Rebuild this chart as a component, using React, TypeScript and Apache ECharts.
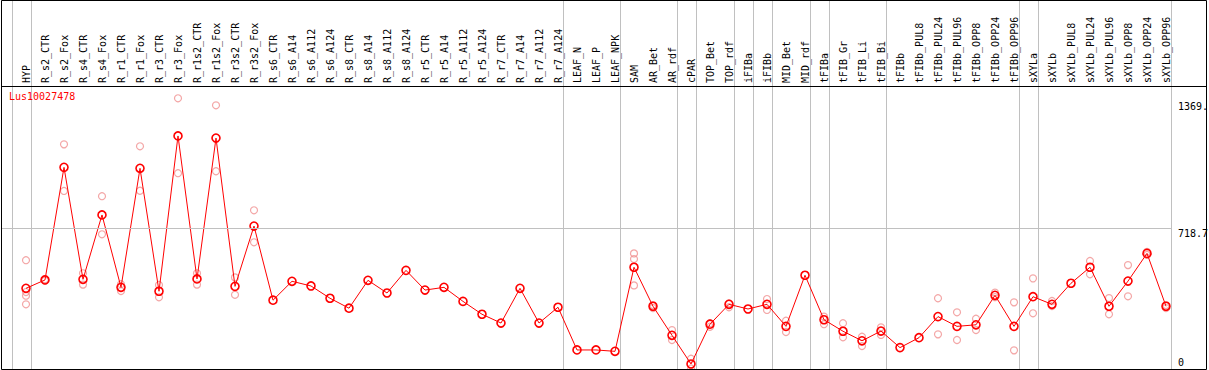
import React, { useEffect, useRef } from "react";
import * as echarts from "echarts";

const categories = [
  "HYP", "R_s2_CTR", "R_s2_Fox", "R_s4_CTR", "R_s4_Fox", "R_r1_CTR", "R_r1_Fox", "R_r3_CTR", "R_r3_Fox",
  "R_r1s2_CTR", "R_r1s2_Fox", "R_r3s2_CTR", "R_r3s2_Fox", "R_s6_CTR", "R_s6_A14", "R_s6_A112", "R_s6_A124",
  "R_s8_CTR", "R_s8_A14", "R_s8_A112", "R_s8_A124", "R_r5_CTR", "R_r5_A14", "R_r5_A112", "R_r5_A124",
  "R_r7_CTR", "R_r7_A14", "R_r7_A112", "R_r7_A124", "LEAF_N", "LEAF_P", "LEAF_NPK", "SAM", "AR_Bet", "AR_rdf",
  "cPAR", "TOP_Bet", "TOP_rdf", "iFIBa", "iFIBb", "MID_Bet", "MID_rdf", "tFIBa", "tFIB_Gr", "tFIB_Li", "tFIB_Bi",
  "tFIBb", "tFIBb_PUL8", "tFIBb_PUL24", "tFIBb_PUL96", "tFIBb_OPP8", "tFIBb_OPP24", "tFIBb_OPP96",
  "sXYLa", "sXYLb", "sXYLb_PUL8", "sXYLb_PUL24", "sXYLb_PUL96", "sXYLb_OPP8", "sXYLb_OPP24", "sXYLb_OPP96",
];

const meanValues = [
  411, 454, 1031, 457, 787, 416, 1026, 396, 1192,
  459, 1181, 421, 730, 350, 447, 423, 360,
  309, 452, 387, 503, 402, 416, 344, 278,
  233, 411, 233, 314, 95, 95, 88, 519, 319, 170,
  23, 227, 329, 305, 329, 216, 478, 250, 191, 142, 192,
  107, 158, 266, 216, 224, 375, 216,
  368, 329, 437, 519, 319, 448, 590, 319,
];

const replicateValues: number[][] = [
  [555, 392, 373, 329], [450, 458], [1149, 910], [488, 430], [883, 688], [432, 397], [1139, 911], [428, 365], [1385, 1001],
  [488, 430], [1349, 1011], [467, 378], [811, 647], [], [], [], [],
  [], [], [], [], [], [], [], [],
  [], [], [], [], [], [], [], [590, 561, 426], [325, 310], [197, 146],
  [50, 0], [232, 214], [334, 314], [], [356, 300], [245, 187], [], [266, 227], [232, 160], [163, 115], [211, 172],
  [], [], [360, 175], [288, 146], [255, 197], [389, 366], [339, 93],
  [462, 283], [346, 320], [], [551, 483], [361, 278], [530, 370], [598, 582], [325, 310],
];

const groupEnds = [-1, 0, 28, 31, 34, 35, 37, 38, 39, 41, 42, 45, 52, 53, 60];
const geneName = "Lus10027478";
const gridLineValue = 718.7;
const valueLabels = [
  { text: "1369.", value: 1369, below: true },
  { text: "718.7", value: 718.7, below: true },
  { text: "0", value: 0, below: false },
];

const MONO = "'DejaVu Sans Mono', 'Liberation Mono', monospace";

export default function App() {
  const ref = useRef<HTMLDivElement>(null);
  useEffect(() => {
    if (!ref.current) return;
    const chart = echarts.init(ref.current, undefined, { renderer: "svg" });
    const scatterData: number[][] = [];
    replicateValues.forEach((reps, i) => reps.forEach((v) => scatterData.push([i, v])));
    chart.setOption({
      animation: false,
      backgroundColor: "#ffffff",
      title: {
        text: geneName,
        left: 9,
        top: 91,
        padding: 0,
        textStyle: { color: "#ff0000", fontSize: 10, fontFamily: MONO, fontWeight: "normal" },
      },
      grid: { left: 16.5, right: 33.5, top: 86, bottom: 1.5, containLabel: false },
      xAxis: [
        {
          type: "category",
          data: categories,
          position: "top",
          boundaryGap: true,
          axisLine: { show: false },
          axisTick: { show: false },
          splitLine: { show: false },
          axisLabel: {
            rotate: 90,
            interval: 0,
            margin: 3,
            fontSize: 10,
            fontFamily: MONO,
            color: "#000000",
          },
        },
        { type: "value", min: -0.5, max: 60.5, show: false },
      ],
      yAxis: { type: "value", min: 0, max: 1448, show: false },
      series: [
        {
          type: "custom",
          xAxisIndex: 1,
          silent: true,
          clip: false,
          z: 1,
          data: groupEnds.map((e) => [e + 0.25, 0]),
          renderItem: (params: any, api: any) => {
            const p = api.coord([api.value(0), 0]);
            const x = Math.round(p[0]) + 0.5;
            return {
              type: "line",
              shape: { x1: x, y1: 0, x2: x, y2: p[1] + 0.5 },
              style: { stroke: "#c0c0c0", lineWidth: 1 },
            };
          },
        },
        {
          type: "scatter",
          data: scatterData,
          symbol: "circle",
          symbolSize: 7,
          z: 2,
          itemStyle: { color: "transparent", borderColor: "#f09090", borderWidth: 1.2 },
          silent: true,
        },
        {
          type: "line",
          data: meanValues,
          symbol: "circle",
          symbolSize: 8,
          z: 3,
          lineStyle: { color: "#ff0000", width: 1 },
          itemStyle: { color: "transparent", borderColor: "#ff0000", borderWidth: 1.6 },
          silent: true,
        },
      ],
    });

    const yGrid = chart.convertToPixel({ yAxisIndex: 0 }, gridLineValue) as number;
    const xEnd = chart.convertToPixel({ xAxisIndex: 1 }, groupEnds[groupEnds.length - 1] + 0.25) as number;
    const xLabel = chart.convertToPixel({ xAxisIndex: 0 }, categories.length - 1) as number;
    const graphics: any[] = [
      {
        type: "line",
        z: 5,
        shape: { x1: 1, y1: Math.round(yGrid) + 0.5, x2: Math.round(xEnd), y2: Math.round(yGrid) + 0.5 },
        style: { stroke: "#c0c0c0", lineWidth: 1 },
        silent: true,
      },
      {
        type: "line",
        z: 20,
        shape: { x1: 1, y1: 86.5, x2: 1207, y2: 86.5 },
        style: { stroke: "#000000", lineWidth: 1 },
        silent: true,
      },
      {
        type: "rect",
        z: 20,
        shape: { x: 1.5, y: 0.5, width: 1205, height: 369 },
        style: { fill: "none", stroke: "#000000", lineWidth: 1 },
        silent: true,
      },
    ];
    valueLabels.forEach((l) => {
      const y = chart.convertToPixel({ yAxisIndex: 0 }, l.value) as number;
      graphics.push({
        type: "text",
        z: 10,
        x: xLabel + 12,
        y: l.below ? y : y - 1,
        style: {
          text: l.text,
          fill: "#000000",
          fontSize: 10,
          fontFamily: MONO,
          align: "left",
          verticalAlign: l.below ? "top" : "bottom",
        },
        silent: true,
      });
    });
    chart.setOption({ graphic: graphics });
    return () => chart.dispose();
  }, []);
  return (
    <div
      ref={ref}
      style={{ position: "fixed", left: 0, top: 0, width: 1209, height: 370, background: "#fff" }}
    />
  );
}
